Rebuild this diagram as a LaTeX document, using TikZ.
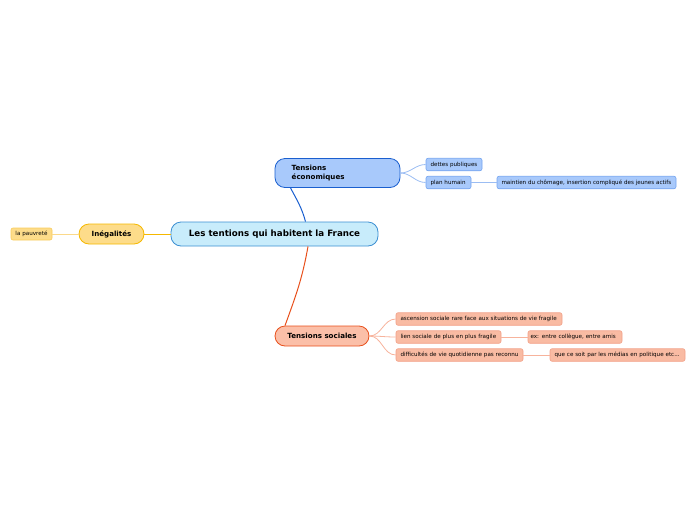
\documentclass[tikz,border=0pt]{standalone}
\usepackage{fontspec}
\setmainfont{DejaVu Sans}
\usetikzlibrary{calc}
\definecolor{mainfill}{HTML}{C8ECFB}
\definecolor{mainline}{HTML}{3C8FD2}
\definecolor{ecofill}{HTML}{A8C9FB}
\definecolor{ecoline}{HTML}{1A5FCF}
\definecolor{bleaf}{HTML}{A8C9FB}
\definecolor{bleafline}{HTML}{74A4F0}
\definecolor{bconn}{HTML}{9BBDF3}
\definecolor{socfill}{HTML}{FBBFA8}
\definecolor{socline}{HTML}{E8501C}
\definecolor{oleaf}{HTML}{F9BBA3}
\definecolor{oleafline}{HTML}{F2A088}
\definecolor{oconn}{HTML}{F7B39C}
\definecolor{inefill}{HTML}{FDDC8A}
\definecolor{ineline}{HTML}{F5B800}
\definecolor{yleaf}{HTML}{FDDC8A}
\definecolor{yleafline}{HTML}{F8CB5C}
\definecolor{yconn}{HTML}{FBD98A}
\begin{document}
\begin{tikzpicture}[x=1pt,y=-1pt,
  mainbox/.style={draw=mainline,fill=mainfill,line width=0.8pt,rounded corners=10pt,minimum width=207pt,minimum height=24pt,inner sep=0pt,font=\fontsize{8.7}{10}\selectfont\bfseries},
  topicbox/.style={line width=0.8pt,rounded corners=10pt,inner sep=0pt,font=\fontsize{7.1}{8.4}\selectfont\bfseries},
  leafbox/.style={line width=0.6pt,rounded corners=2pt,minimum height=12.5pt,inner xsep=4.5pt,inner ysep=0pt,align=left,font=\fontsize{5.6}{6.5}\selectfont},
  bl/.style={leafbox,draw=bleafline,fill=bleaf},
  ol/.style={leafbox,draw=oleafline,fill=oleaf},
  yl/.style={leafbox,draw=yleafline,fill=yleaf},
  bc/.style={draw=bconn,line width=0.8pt},
  oc/.style={draw=oconn,line width=0.8pt},
  yc/.style={draw=yconn,line width=0.8pt}
]
\useasboundingbox (0,0) rectangle (696,520);

% main
\node[mainbox] (main) at (274.5,234) {Les tentions qui habitent la France};

% economiques
\node[topicbox,draw=ecoline,fill=ecofill,minimum width=125pt,minimum height=29pt] (eco) at (337.5,173) {};
\node[anchor=west,align=left,inner sep=0pt,font=\fontsize{7.1}{8.4}\selectfont\bfseries] (ecotxt) at (291.5,173) {Tensions\\économiques};
\node[bl,text width=47pt] (dettes) at (454,164.5) {dettes publiques};
\node[bl,text width=36pt] (plan) at (448.5,182.5) {plan humain};
\node[bl,text width=170pt] (maint) at (586.5,182.5) {maintien du chômage, insertion compliqué des jeunes actifs};

% inegalites
\node[topicbox,draw=ineline,fill=inefill,minimum width=65pt,minimum height=20pt] (ine) at (111.5,234) {Inégalités};
\node[yl,text width=32pt,minimum height=12pt] (pauv) at (31.5,234) {la pauvreté};

% sociales
\node[topicbox,draw=socline,fill=socfill,minimum width=94pt,minimum height=20pt] (soc) at (322,336) {Tensions sociales};
\node[ol,text width=157pt] (asc) at (479,319) {ascension sociale rare face aux situations de vie fragile};
\node[ol,text width=96pt] (lien) at (448.5,337) {lien sociale de plus en plus fragile};
\node[ol,text width=89pt,inner xsep=2.5pt] (ex) at (575,337) {\mbox{ex: entre collègue, entre amis}};
\node[ol,text width=118pt] (diff) at (459.5,355) {difficultés de vie quotidienne pas reconnu};
\node[ol,text width=126pt] (que) at (617.5,355) {que ce soit par les médias en politique etc...};

% main connectors
\draw[ecoline,line width=1pt] ($(main.north)+(31,0)$) to[out=105,in=-62] ($(eco.south)+(-47,0)$);
\draw[socline,line width=1pt] ($(main.south)+(33.5,0)$) to[out=-100,in=70] ($(soc.north)+(-37,0)$);
\draw[ineline,line width=1pt] (main.west) -- (ine.east);
\draw[yc] (ine.west) -- (pauv.east);

% eco leaves
\draw[bc] (eco.east) to[out=0,in=180] (dettes.west);
\draw[bc] (eco.east) to[out=0,in=180] (plan.west);
\draw[bc] (plan.east) -- (maint.west);

% soc leaves
\draw[oc] (soc.east) to[out=0,in=180] (asc.west);
\draw[oc] (soc.east) to[out=0,in=180] (lien.west);
\draw[oc] (soc.east) to[out=0,in=180] (diff.west);
\draw[oc] (lien.east) -- (ex.west);
\draw[oc] (diff.east) -- (que.west);
\end{tikzpicture}
\end{document}
